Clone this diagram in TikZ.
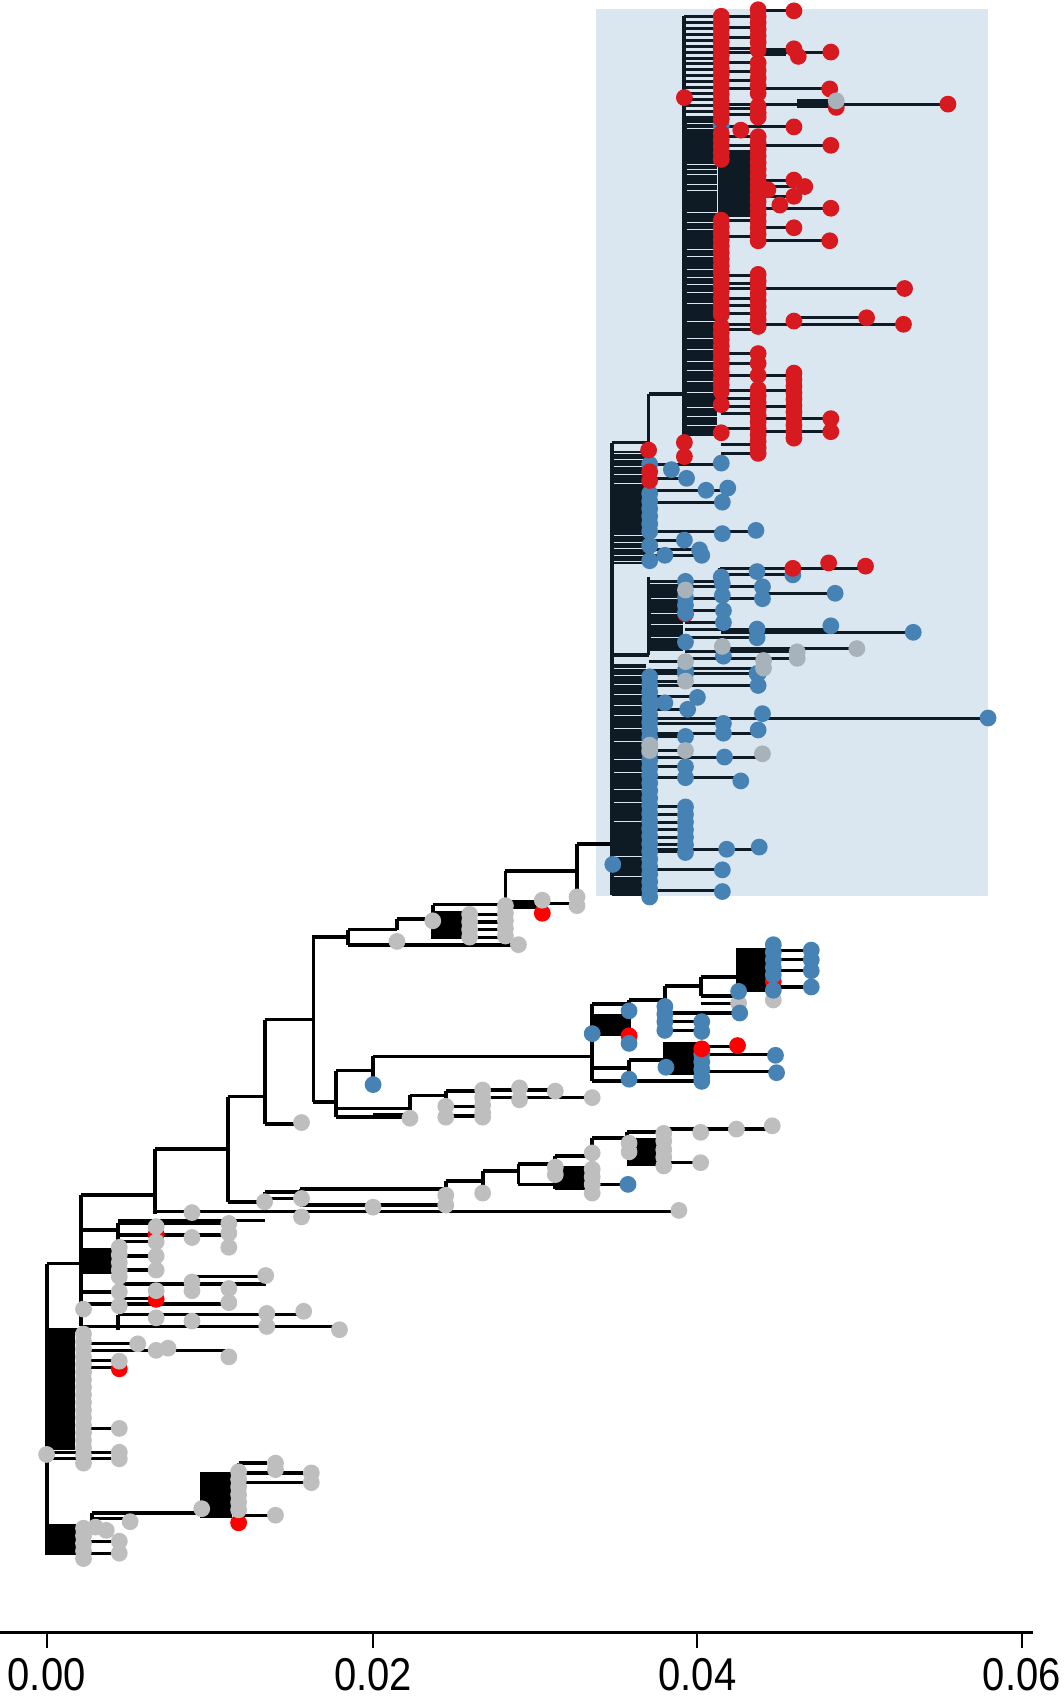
\documentclass[tikz,border=0pt]{standalone}
\usepackage{fontspec}
\setmainfont{Liberation Sans}
\definecolor{boxbg}{RGB}{218,230,240}
\definecolor{cRed}{RGB}{215,25,32}
\definecolor{cPure}{RGB}{255,0,0}
\definecolor{cBlue}{RGB}{70,130,180}
\definecolor{cGrey}{RGB}{190,190,190}
\definecolor{cGreyIn}{RGB}{168,178,187}
\definecolor{tIn}{RGB}{14,26,36}
\newcommand\HLs[2]{\foreach \yy/\aa/\bb in {#2}{\draw[#1] (\aa,\yy) -- (\bb,\yy);}}
\newcommand\VLs[2]{\foreach \xx/\aa/\bb in {#2}{\draw[#1] (\xx,\aa) -- (\xx,\bb);}}
\newcommand\mydots[2]{\foreach \pp/\qq in {#2}{\fill[#1] (\pp,\qq) circle[radius=8.4pt];}}
\newcommand\mycol[3]{\foreach \qq in {#3}{\fill[#1] (#2,\qq) circle[radius=8.4pt];}}
\begin{document}
\begin{tikzpicture}[x=1.0846pt,y=-1.0846pt,
  br/.style={line width=3.8pt,line cap=square,draw=black},
  bth/.style={line width=3.2pt,draw=black},
  bi/.style={line width=3.8pt,line cap=square,draw=tIn},
  bit/.style={line width=3.0pt,draw=tIn},
  gap/.style={line width=0.9pt,draw=boxbg},
  lab/.style={font=\fontsize{46}{46}\selectfont,xscale=0.87,anchor=base}]
\useasboundingbox (0,0) rectangle (981,1567.4);
% ---------- highlighted clade background
\fill[boxbg] (549.5,8.6) rectangle (911,826);
% ---------- outside branches
\VLs{br}{43/1165/1434, 75/1102/1223, 143/1059/1119, 210/1011/1108, 244/940/1036, 289/862/1016, 321/857/871, 366/847/857, 399/834/866, 466/803/836, 532/778/833, 310/987/1030, 344/974/1000, 378/1010/1030, 411/1006/1021, 546/926/997, 580/922/962, 613/909/934, 646/901/918, 680/874/925, 580/977/990, 613/961/991, 244/1099/1116, 277/1096/1106, 411/1089/1111, 445/1080/1100, 478/1073/1092, 512/1066/1096, 546/1049/1100, 578/1044/1062, 109/1128/1145, 109/1212/1226, 85/1395/1408, 186/1357/1400, 220/1349/1403}
\HLs{br}{1165/43/75, 1102/75/143, 1059/143/210, 1011/210/244, 940/244/289, 1036/244/278, 864/289/321, 857/321/366, 871/321/478, 847/366/399, 834/399/466, 803/466/532, 778/532/564, 836/466/500, 833/500/532, 1016/289/310, 987/310/344, 974/344/546, 1022/310/378, 1030/310/378, 1010/378/411, 1006/411/445, 926/546/580, 997/546/646, 922/580/613, 909/613/646, 901/646/680, 918/646/680, 934/613/682, 985/546/580, 977/580/613, 1108/210/244, 1099/244/277, 1096/277/411, 1089/411/445, 1080/445/478, 1073/478/512, 1066/512/546, 1049/546/578, 1044/578/612, 1134/75/109, 1128/109/212, 1139/109/212, 1152/75/109, 1184/109/245, 1191/75/110, 1202/75/212, 1212/109/280, 1223/75/313, 1395/85/186, 1408/43/85, 1349/220/246, 1226/43/75}
\HLs{bth}{843/399/466, 850/399/466, 857/399/466, 864/399/466, 1005/445/512, 1012/445/546, 1020/411/445, 1029/411/445, 925/646/681, 876/713/748, 885/713/748, 895/713/748, 910/713/748, 942/613/647, 950/613/647, 965/646/680, 972/646/714, 988/646/715, 1105/244/277, 1111/277/411, 1117/143/626, 1092/478/512, 1096/512/546, 1092/546/578, 1041/612/712, 1062/578/612, 1072/612/646, 1145/109/144, 1158/110/144, 1171/110/144, 1177/177/245, 1197/110/144, 1125/109/244, 1239/77/128, 1245/77/212, 1254/77/110, 1261/77/110, 1317/77/110, 1339/43/110, 1345/43/110, 1400/85/120, 1421/77/110, 1432/77/110, 1358/220/287, 1367/220/287, 1397/220/254}
% dense blocks outside
\fill[black] (399,840) rectangle (433,866);
\fill[black] (466,830) rectangle (495,838);
\fill[black] (680,874) rectangle (713,915);
\fill[black] (546,935) rectangle (580,955);
\fill[black] (613,961) rectangle (646,991);
\fill[black] (512,1075) rectangle (546,1096);
\fill[black] (578,1049) rectangle (612,1075);
\fill[black] (75,1152) rectangle (106,1175);
\fill[black] (43,1226) rectangle (69,1337);
\fill[black] (43,1405) rectangle (77,1434);
\fill[black] (186,1357) rectangle (214,1400);
\fill[black] (344,1026) rectangle (378,1032);
% ---------- inside branches
\fill[tIn] (564,416) rectangle (596,520);
\fill[tIn] (564,612) rectangle (596,826);
\fill[tIn] (631,110) rectangle (661,402);
\fill[tIn] (598,538) rectangle (630,600);
\fill[tIn] (664,138) rectangle (694,200);
\foreach \g in {418,424,430,437,446,494,500,506,512,518}{\draw[gap] (566,\g) -- (596,\g);}
\foreach \g in {616,623,631,640,650,660,672,684,700,712,728,740,757,790,808}{\draw[gap] (566,\g) -- (596,\g);}
\foreach \g in {114,118,152,156,161,170,176,196,205,212,230,236,248,256,262,270,280,296,312,322,333,342,352,362,376,384,392}{\draw[gap] (633,\g) -- (661,\g);}
\foreach \g in {542,552,566,576,588}{\draw[gap] (600,\g) -- (630,\g);}
\foreach \g in {15,20.5,...,110}{\draw[bit] (631,\g) -- (664,\g);}
\VLs{bi}{564/408/825, 598/363/415, 631/15/402, 664/120/212, 598/532/604, 664/524/536}
\HLs{bi}{408/564/598, 363/598/631, 604/564/598}
\HLs{bit}{428/598/665, 441/598/633, 452/598/671, 463/598/666, 490/598/697, 498/598/631, 507/598/647, 512/598/647, 435/564/599, 443/564/599,
 536/598/665, 524/664/797, 530/664/731, 541/598/703, 547/703/770, 552/632/703, 563/632/667, 574/632/667, 583/665/842, 580/632/766, 588/632/698, 592/598/632, 598/660/790, 601/632/735, 607/632/735, 610/598/632, 616/632/703, 618/598/632, 621/632/698,
 621/598/699, 628/598/632, 632/598/699, 642/598/643, 648/598/613, 654/598/634, 662/598/911, 667/598/667, 676/598/699, 679/598/632, 692/598/632, 698/598/703, 707/598/632, 717/598/683, 744/598/632, 751/598/632, 758/598/632, 765/598/632, 772/598/632, 779/598/632, 785/598/632, 783/598/700, 802/598/666, 821/598/666,
 10/699/732, 48/665/766, 82/665/766, 96/665/874, 117/665/732, 134/665/766, 166/699/732, 172/699/742, 181/699/732, 192/699/766, 210/699/732, 222/699/766, 254/665/699, 266/665/834, 293/732/799, 299/665/833, 326/665/699, 335/665/699, 346/665/732, 360/665/732, 375/665/732, 386/699/766, 398/699/766}
\foreach \g in {15,25,35,45,58,66,74,100,106,126,140,154,161,203,218,261,275,282,289,304,367,381,395,410,418}{\draw[bit] (665,\g) -- (699,\g);}
\fill[tIn] (735,91) rectangle (771,100);
\fill[tIn] (699,44) rectangle (725,52);
% ---------- outside dots
\mydots{cPure}{500/842, 144/1138, 144/1198, 110/1262, 220/1404, 580/955, 713/905, 632/566}
\mydots{cGrey}{366/868, 399/849, 478/871, 433/843, 433/850, 433/857, 433/864, 466/835, 466/842, 466/849, 466/856, 466/863, 500/830, 532/827, 532/835,
 278/1035, 244/1108, 278/1105, 278/1122, 344/1113, 411/1102, 411/1111, 445/1100, 626/1116, 177/1118,
 378/1031, 411/1020, 411/1030, 445/1005, 445/1012, 445/1019, 445/1026, 445/1030, 479/1003, 479/1014, 512/1006, 546/1012,
 512/1076, 512/1083, 546/1063, 546/1078, 546/1085, 546/1092, 546/1100, 580/1054, 580/1062, 612/1045, 612/1052, 612/1060, 612/1067, 612/1075, 646/1044, 679/1041, 712/1038, 646/1072,
 713/922, 681/925, 144/1131, 144/1145, 177/1141, 211/1128, 211/1137, 211/1150,
 110/1150, 110/1157, 110/1164, 110/1171, 110/1177, 144/1158, 144/1171,
 177/1182, 177/1190, 211/1188, 245/1176, 110/1191, 144/1190, 110/1204, 211/1201, 77/1207,
 144/1215, 177/1218, 246/1211, 280/1209, 246/1223, 313/1226,
 127/1239, 144/1245, 155/1243, 211/1251, 110/1255,
 110/1317, 110/1339, 110/1345, 43/1341,
 88/1408, 98/1411, 120/1403, 110/1421, 110/1432,
 186/1391, 254/1349, 254/1355, 287/1358, 287/1367, 254/1397}
\mycol{cGrey}{77}{1230,1237,...,1349}
\mycol{cGrey}{77}{1409,1416,...,1441}
\mycol{cGrey}{220}{1357,1364,...,1398}
\mydots{cBlue}{344/1000, 546/953, 580/932, 580/962, 580/995, 613/928, 613/935, 613/942, 613/950, 647/942, 647/951,
 748/876, 748/885, 748/895, 748/910, 681/914, 682/934,
 614/984, 647/972, 647/979, 647/986, 647/993, 647/997, 715/973, 716/989, 579/1092}
\mycol{cBlue}{713}{871,878,885,892,899,913}
\mydots{cPure}{647/967, 680/964}
% ---------- inside dots
\mydots{cBlue}{665/116,
 599/428, 599/455, 599/462, 599/469, 599/476, 599/483, 599/490, 599/503, 599/517, 619/433, 633/441, 665/427, 651/452, 671/450, 666/463, 631/498, 666/492, 697/489, 613/512, 645/507, 647/512,
 632/536, 632/551, 632/558, 632/565, 632/592, 632/618, 665/532, 666/538, 666/549, 667/563, 667/574, 667/605, 698/527, 703/541, 703/552, 698/580, 698/588, 698/621, 731/530, 770/547, 766/577, 842/583,
 565/797, 632/621, 699/621, 699/632, 643/643, 613/648, 634/654, 703/658, 911/662, 667/667, 667/676, 699/673, 632/679, 668/698, 632/707, 632/717, 683/720, 670/783, 700/781, 666/802, 666/822}
\mycol{cBlue}{599}{624,631,...,827}
\mycol{cBlue}{632}{744,751,...,786}
\mycol{cRed}{665}{15,21,...,93}
\mycol{cRed}{665}{98,104,110,123,129,135,141,147,290,373,399}
\mycol{cRed}{665}{203,209,...,287}
\mycol{cRed}{665}{301,307,...,361}
\mycol{cRed}{699}{9,15,21,27,33,39,46,58,65,72,79,86,98,104,108}
\mycol{cRed}{699}{126,132,...,222}
\mycol{cRed}{699}{253,259,...,304}
\mycol{cRed}{699}{326,335,346,359,365,371,377,383,389,395,401,407,413,418}
\mycol{cRed}{732}{10,45,117,166,181,210,296,344,350,356,362,368,374,380,386,392,398,404}
\mydots{cRed}{736/52, 766/48, 765/82, 874/96, 771/99, 631/90, 683/120, 742/172, 719/189, 708/175, 766/134, 766/192, 765/222, 834/266, 799/293, 833/299, 766/386, 766/398, 598/415, 599/435, 599/443, 631/408, 631/421, 731/524, 764/519, 798/522}
\mydots{cGreyIn}{771/93, 632/544, 666/596, 704/609, 704/616, 735/601, 735/607, 790/598, 632/628, 632/610, 599/687, 599/692, 632/692, 703/695}
% ---------- axis
\draw[line width=3pt] (0,1505) -- (952,1505);
\foreach \t/\l in {43/0.00,344/0.02,643/0.04,942/0.06}{
  \draw[line width=2pt] (\t,1505) -- (\t,1519);
  \node[lab] at (\t,1559) {\l};}
\end{tikzpicture}
\end{document}
